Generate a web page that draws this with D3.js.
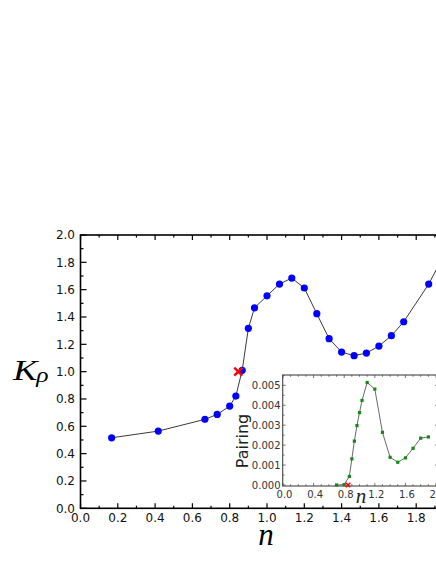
<!DOCTYPE html>
<html><head><meta charset="utf-8">
<script src="https://cdn.jsdelivr.net/npm/d3@7"></script>
<style>body{margin:0;background:#fff}svg{display:block;overflow:hidden}</style>
</head><body>
<svg id="c" width="436" height="564"></svg>
<script>
// Main panel data: K_rho vs n
const mainN = [0.167,0.417,0.667,0.733,0.8,0.833,0.867,0.9,0.933,1.0,1.067,1.133,1.2,1.267,1.333,1.4,1.467,1.533,1.6,1.667,1.733,1.867,1.933];
const mainK = [0.516,0.565,0.651,0.687,0.748,0.821,1.01,1.317,1.467,1.555,1.641,1.685,1.612,1.424,1.241,1.143,1.117,1.136,1.187,1.263,1.365,1.641,1.81];
const mainCross = [0.846, 1.0];
const mainXTicks = [0.0,0.2,0.4,0.6,0.8,1.0,1.2,1.4,1.6,1.8,2.0];
const mainYTicks = [0.0,0.2,0.4,0.6,0.8,1.0,1.2,1.4,1.6,1.8,2.0];
// Inset data: Pairing vs n
const pairN = [0.7,0.8,0.867,0.9,0.933,0.967,1.0,1.033,1.1,1.2,1.3,1.4,1.5,1.6,1.7,1.8,1.9];
const pairV = [0,0.00002,0.00043,0.00131,0.0022,0.00298,0.00363,0.00424,0.00514,0.00481,0.00264,0.00139,0.00114,0.00136,0.00184,0.00235,0.00241];
const insetCross = [0.85, 0];
const insetXTicks = [0.0,0.4,0.8,1.2,1.6,2.0];
const insetYTicks = [0,0.001,0.002,0.003,0.004,0.005];

const svg = d3.select("#c");

// ---------- main panel ----------
const L=80.5, R=453.5, T=235, B=508.3;
const x = d3.scaleLinear().domain([0,2]).range([L,R]);
const y = d3.scaleLinear().domain([0,2]).range([B,T]);
const g = svg.append("g");

const isMaj = v=>Math.abs(Math.round(v*10)%2)===0;
d3.range(0,21).map(i=>i/10).forEach(v=>{
  const len = isMaj(v)?5:2.6;
  g.append("line").attr("x1",x(v)).attr("x2",x(v)).attr("y1",B).attr("y2",B-len).attr("stroke","#000").attr("stroke-width",1.2);
  g.append("line").attr("x1",x(v)).attr("x2",x(v)).attr("y1",T).attr("y2",T+len).attr("stroke","#000").attr("stroke-width",1.2);
});
d3.range(0,21).map(i=>i/10).forEach(v=>{
  const len = isMaj(v)?6:3;
  g.append("line").attr("x1",L).attr("x2",L+len).attr("y1",y(v)).attr("y2",y(v)).attr("stroke","#000").attr("stroke-width",1.2);
  g.append("line").attr("x1",R).attr("x2",R-len).attr("y1",y(v)).attr("y2",y(v)).attr("stroke","#000").attr("stroke-width",1.2);
});
g.append("rect").attr("x",L).attr("y",T).attr("width",R-L).attr("height",B-T)
 .attr("fill","none").attr("stroke","#000").attr("stroke-width",1.6);

g.selectAll("text.xl").data(mainXTicks).enter().append("text")
 .attr("x",d=>x(d)).attr("y",521.5).attr("text-anchor","middle")
 .attr("font-family","DejaVu Sans").attr("font-size",12).attr("fill","#111")
 .text(d=>d.toFixed(1));
g.selectAll("text.yl").data(mainYTicks).enter().append("text")
 .attr("x",75).attr("y",d=>y(d)+4.3).attr("text-anchor","end")
 .attr("font-family","DejaVu Sans").attr("font-size",12).attr("fill","#111")
 .text(d=>d.toFixed(1));

const mainPts = mainN.map((n,i)=>[n,mainK[i]]);
g.append("path").datum(mainPts)
 .attr("d",d3.line().x(d=>x(d[0])).y(d=>y(d[1])))
 .attr("fill","none").attr("stroke","#222").attr("stroke-width",0.9);
g.selectAll("circle.m").data(mainPts).enter().append("circle")
 .attr("cx",d=>x(d[0])).attr("cy",d=>y(d[1])).attr("r",3.6).attr("fill","#0000ff");
function cross(sel,cx,cy,s,w){
  sel.append("path").attr("d",`M${cx-s},${cy-s}L${cx+s},${cy+s}M${cx-s},${cy+s}L${cx+s},${cy-s}`)
   .attr("stroke","#ff0000").attr("stroke-width",w).attr("fill","none");
}
cross(g, x(mainCross[0]), y(mainCross[1]), 4, 2.4);

// axis labels
const kl = svg.append("text").attr("transform","translate(13,380) scale(1.22,1)")
 .attr("font-family","Liberation Serif").attr("font-style","italic").attr("font-size",30).attr("fill","#000");
kl.append("tspan").text("K");
kl.append("tspan").attr("font-size",21).attr("dy",2).attr("dx",-1).text("ρ");
svg.append("text").attr("x",(x(0)+x(2))/2-1).attr("y",545)
 .attr("text-anchor","middle").attr("font-family","Liberation Serif").attr("font-style","italic")
 .attr("font-size",31).attr("fill","#000").text("n");

// ---------- inset ----------
const iL=282.7, iR=440, iT=375, iB=486;
const ix = d3.scaleLinear().domain([0,2]).range([283,436]);
const iy = d3.scaleLinear().domain([0,0.005]).range([485,385.3]);
const ig = svg.append("g");
ig.append("rect").attr("x",iL).attr("y",iT).attr("width",iR-iL).attr("height",iB-iT).attr("fill","#fff");
d3.range(0,21).map(i=>i/10).forEach(v=>{
  const len = (Math.round(v*10)%4===0)?3:1.8;
  ig.append("line").attr("x1",ix(v)).attr("x2",ix(v)).attr("y1",iB).attr("y2",iB-len).attr("stroke","#555").attr("stroke-width",0.8);
  ig.append("line").attr("x1",ix(v)).attr("x2",ix(v)).attr("y1",iT).attr("y2",iT+len).attr("stroke","#555").attr("stroke-width",0.8);
});
d3.range(0,12).map(i=>i*0.0005).forEach((v,i)=>{
  const len = (i%2===0)?3:1.8;
  ig.append("line").attr("x1",iL).attr("x2",iL+len).attr("y1",iy(v)).attr("y2",iy(v)).attr("stroke","#555").attr("stroke-width",0.8);
  ig.append("line").attr("x1",iR).attr("x2",iR-len-2).attr("y1",iy(v)).attr("y2",iy(v)).attr("stroke","#555").attr("stroke-width",0.8);
});
ig.append("rect").attr("x",iL).attr("y",iT).attr("width",iR-iL).attr("height",iB-iT)
 .attr("fill","none").attr("stroke","#444").attr("stroke-width",1.1);
ig.selectAll("text.ixl").data(insetXTicks).enter().append("text")
 .attr("x",d=>ix(d)+1.5).attr("y",497.5).attr("text-anchor","middle")
 .attr("font-family","DejaVu Sans").attr("font-size",10).attr("fill","#333")
 .text(d=>d.toFixed(1));
ig.selectAll("text.iyl").data(insetYTicks).enter().append("text")
 .attr("x",280.5).attr("y",d=>iy(d)+3.6).attr("text-anchor","end")
 .attr("font-family","DejaVu Sans").attr("font-size",10).attr("fill","#333")
 .text(d=>d.toFixed(3));
const pairPts = pairN.map((n,i)=>[n,pairV[i]]);
ig.append("path").datum(pairPts)
 .attr("d",d3.line().x(d=>ix(d[0])).y(d=>iy(d[1])))
 .attr("fill","none").attr("stroke","#444").attr("stroke-width",0.8);
ig.selectAll("rect.p").data(pairPts).enter().append("rect")
 .attr("x",d=>ix(d[0])-1.6).attr("y",d=>iy(d[1])-1.6).attr("width",3.2).attr("height",3.2).attr("fill","#138a13");
cross(ig, ix(insetCross[0]), iy(insetCross[1]), 2.3, 1.5);
ig.append("text").attr("transform","translate(248,441) rotate(-90)").attr("text-anchor","middle")
 .attr("font-family","DejaVu Sans").attr("font-size",16).attr("fill","#222").text("Pairing");
ig.append("text").attr("x",361).attr("y",503).attr("text-anchor","middle")
 .attr("font-family","Liberation Serif").attr("font-style","italic").attr("font-size",21).attr("fill","#222").text("n");
</script>
</body></html>
